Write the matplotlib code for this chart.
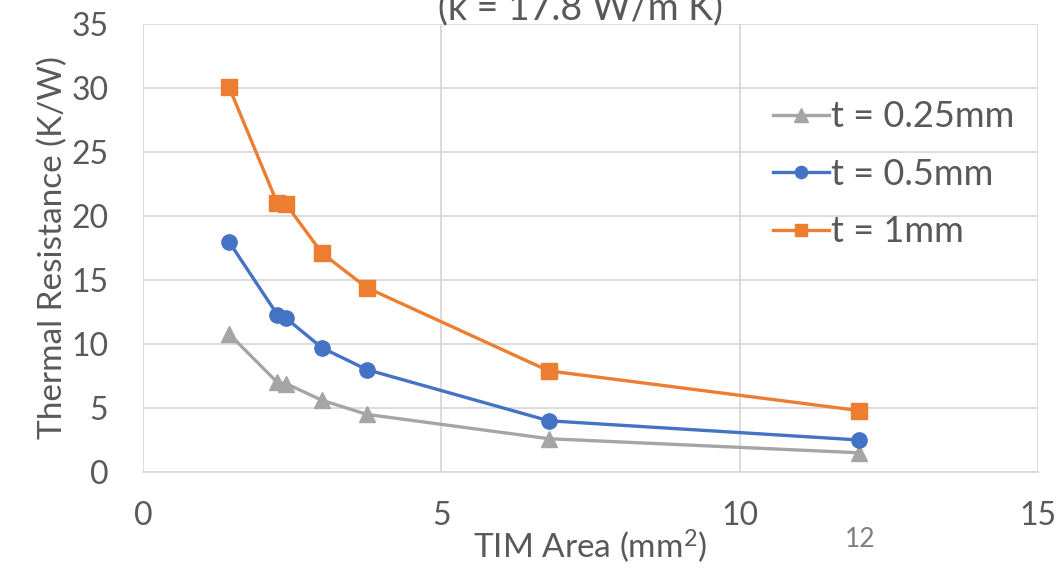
import numpy as np
import matplotlib
matplotlib.use('Agg')
import matplotlib.pyplot as plt

plt.rcParams['font.family'] = ['Lato', 'DejaVu Sans']
plt.rcParams['mathtext.fontset'] = 'custom'
plt.rcParams['mathtext.rm'] = 'Lato'
plt.rcParams['mathtext.default'] = 'regular'

# TIM area (mm^2) and thermal resistance (K/W) per thickness
area = [1.44, 2.25, 2.4, 3.0, 3.75, 6.8, 12.0]
r_025 = [10.8, 7.0, 6.9, 5.6, 4.5, 2.6, 1.5]
r_05 = [18.0, 12.3, 12.0, 9.7, 8.0, 4.0, 2.5]
r_1 = [30.1, 21.0, 20.9, 17.1, 14.4, 7.9, 4.8]
labels = ['t = 0.25mm', 't = 0.5mm', 't = 1mm']

txt = '#595959'
grid = '#d9d9d9'

fig = plt.figure(figsize=(10.61, 5.76), dpi=100)
ax = fig.add_axes([0.1348, 0.1806, 0.8435, 0.7777])

ax.plot(area, r_025, color='#a5a5a5', lw=2.4, marker='^', ms=12, label=labels[0])
ax.plot(area, r_05, color='#4472c4', lw=2.4, marker='o', ms=11, label=labels[1])
ax.plot(area, r_1, color='#ed7d31', lw=2.4, marker='s', ms=11.5, label=labels[2])

ax.set_xlim(0, 15)
ax.set_ylim(0, 35)
ax.set_xticks([0, 5, 10, 15])
ax.set_yticks(np.arange(0, 36, 5))
ax.grid(True, color=grid, lw=1.3)
ax.set_axisbelow(True)
for s in ['top', 'right', 'left']:
    ax.spines[s].set_visible(False)
ax.spines['bottom'].set_color(grid)
ax.spines['bottom'].set_linewidth(1.3)
ax.tick_params(length=0, labelsize=23, labelcolor=txt)
ax.tick_params(axis='x', pad=21)
ax.tick_params(axis='y', pad=25)

ax.set_xlabel('TIM Area (mm$^2$)', fontsize=24, color=txt, labelpad=-3)
ax.set_ylabel('Thermal Resistance (K/W)', fontsize=24, color=txt, labelpad=2)

fig.text(0.547, 0.967, '(k = 17.8 W/m K)', fontsize=27, color=txt, ha='center', va='baseline')
fig.text(0.811, 0.064, '12', fontsize=19, color='#7f7f7f', ha='center', va='center')

leg = fig.legend(loc='upper left', bbox_to_anchor=(0.729, 0.826), frameon=False, fontsize=26,
                 labelcolor=txt, handlelength=1.55, handletextpad=0.05, labelspacing=0.68,
                 markerscale=0.8, borderpad=0, borderaxespad=0)

fig.savefig('out.png', dpi=100)
